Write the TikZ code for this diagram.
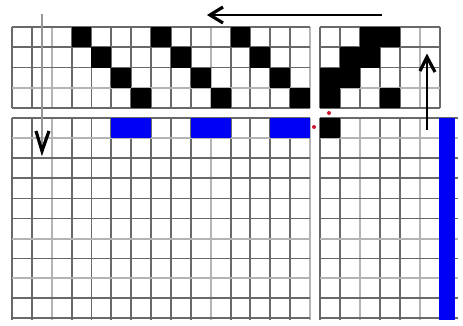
\documentclass[tikz,border=0pt]{standalone}
\begin{document}
\begin{tikzpicture}[x=1pt,y=-1pt,
  dk/.style={draw={rgb,255:red,105;green,105;blue,105}, line width=1.9pt},
  lt/.style={draw={rgb,255:red,180;green,180;blue,180}, line width=1.9pt},
  blk/.style={fill=black},
  blu/.style={fill={rgb,255:red,0;green,0;blue,245}},
  arr/.style={draw=black, line width=2.2pt},
  head/.style={draw=black, line width=3.2pt, line join=miter},
  dot/.style={fill={rgb,255:red,210;green,20;blue,50}}]
\useasboundingbox (0,0) rectangle (463,325);
\def\w{19.87}
% ---------- top grid, left part ----------
\foreach \i in {0,...,15}{
  \pgfmathsetmacro\xx{12+\i*\w}
  \ifnum\i=2 \draw[lt] (\xx,27) -- (\xx,108);
  \else\ifnum\i=10 \draw[lt] (\xx,27) -- (\xx,108);
  \else\ifnum\i=15 \draw[lt] (\xx,27) -- (\xx,108);
  \else \draw[dk] (\xx,27) -- (\xx,108); \fi\fi\fi
}
\foreach \y/\s in {27/dk,47.25/dk,67.5/dk,87.75/lt,108/dk}{
  \draw[\s] (12,\y) -- (310,\y);
}
% ---------- top grid, right part ----------
\foreach \x/\s in {320/dk,340/dk,360/dk,380/dk,400/dk,420/lt,440/dk}{
  \draw[\s] (\x,27) -- (\x,108);
}
\foreach \y/\s in {27/dk,47.25/dk,67.5/dk,87.75/lt,108/dk}{
  \draw[\s] (320,\y) -- (440,\y);
}
% ---------- bottom grid, left part ----------
\foreach \i in {0,...,15}{
  \pgfmathsetmacro\xx{12+\i*\w}
  \ifnum\i=2 \draw[lt] (\xx,118) -- (\xx,320);
  \else\ifnum\i=10 \draw[lt] (\xx,118) -- (\xx,320);
  \else\ifnum\i=15 \draw[lt] (\xx,118) -- (\xx,320);
  \else \draw[dk] (\xx,118) -- (\xx,320); \fi\fi\fi
}
\foreach \y/\s in {118/dk,138/lt,158/dk,178/dk,198.5/dk,218.5/dk,239/lt,258.5/dk,278/lt,298/dk,318/dk}{
  \draw[\s] (12,\y) -- (310,\y);
}
% ---------- bottom grid, right part ----------
\foreach \x/\s in {320/dk,340/dk,360/lt,380/dk,400/dk,420/lt}{
  \draw[\s] (\x,118) -- (\x,320);
}
\foreach \y/\s in {118/dk,138/lt,158/dk,178/dk,198.5/dk,218.5/dk,239/lt,258.5/dk,278/lt,298/dk,318/dk}{
  \draw[\s] (320,\y) -- (458,\y);
}
% ---------- black cells ----------
\foreach \c/\r in {3/0,7/0,11/0,4/1,8/1,12/1,5/2,9/2,13/2,6/3,10/3,14/3}{
  \fill[blk] (12+\c*\w,27+\r*20.25) rectangle ++(\w,20.25);
}
\foreach \c/\r in {2/0,3/0,1/1,2/1,0/2,1/2,0/3,3/3}{
  \fill[blk] (320+\c*20,27+\r*20.25) rectangle ++(20,20.25);
}
\fill[blk] (320,118) rectangle (340,138);
% ---------- blue cells ----------
\foreach \c in {5,6,9,10,13,14}{
  \fill[blu] (12+\c*\w,118) rectangle ++(\w,20);
}
\fill[blu] (439,118) rectangle (455,320);
% ---------- red dots ----------
\fill[dot] (329,113) circle (2);
\fill[dot] (314,127) circle (2);
% ---------- arrows ----------
\coordinate (vtop) at (42,14);
\coordinate (vbot) at (42,150);
\draw[draw={rgb,255:red,150;green,150;blue,150}, line width=2.4pt] (vtop) -- (vbot);
\draw[head] (36,131) -- (42,151) -- (49,131);
\coordinate (hR) at (382,15);
\coordinate (hL) at (209,15);
\draw[arr] (hR) -- (hL);
\draw[head] (223,7) -- (210,15) -- (223,23);
\coordinate (uB) at (427,130);
\coordinate (uT) at (427,57);
\draw[arr] (uB) -- (uT);
\draw[head] (420,71) -- (427,57) -- (435,72);
\end{tikzpicture}
\end{document}
